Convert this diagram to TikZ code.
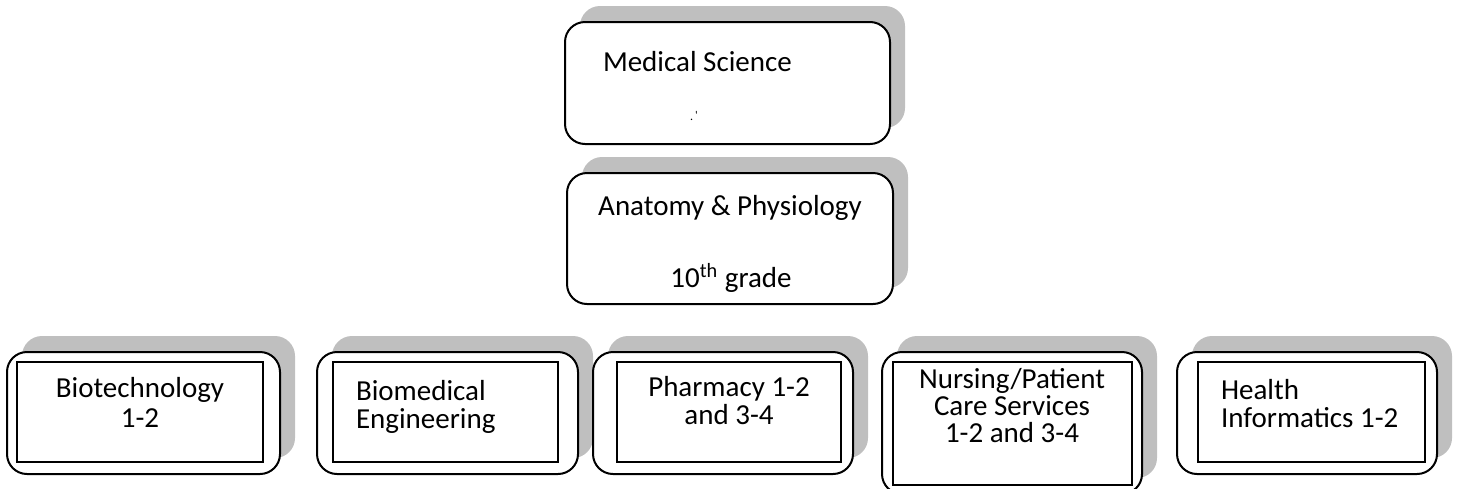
\documentclass[tikz,border=0pt]{standalone}
\usepackage{fontspec}
\setmainfont{Carlito}
\usetikzlibrary{shadows}
\definecolor{shade}{RGB}{191, 191, 191}

\begin{document}
\begin{tikzpicture}[x=0.5pt, y=-0.5pt, line width=1pt,
  font=\fontsize{14.5}{14}\selectfont,
  shadowbox/.style={draw, fill=white, rounded corners=10pt, inner sep=0pt,
    general shadow={fill=shade, shadow xshift=7.5pt, shadow yshift=8pt}},
  framebox/.style={draw, fill=white, inner sep=0pt},
  boxtext/.style={inner sep=0pt, align=center}]
  \useasboundingbox (0, 0) rectangle (1459, 488);

  \node[shadowbox, minimum width=162.5pt, minimum height=61pt] (medsci) at (727.5, 83) {};
  \node[boxtext, anchor=west] (medscitxt) at (602, 62) {Medical Science};
  \node[boxtext, font=\fontsize{6}{6}\selectfont] (medscidots) at (694, 116) {.\,\raisebox{0.6pt}{\textquotesingle}};

  \node[shadowbox, minimum width=163pt, minimum height=65.5pt] (anat) at (730, 238.5) {};
  \node[boxtext] (anattxt) at (730, 208) {Anatomy \& Physiology};
  \node[boxtext] (anatgrade) at (731, 278) {10\textsuperscript{th} grade};

  \node[shadowbox, minimum width=136.5pt, minimum height=61pt] (bio) at (143.5, 413) {};
  \node[framebox, minimum width=123pt, minimum height=50pt] (bioframe) at (140, 412) {};
  \node[boxtext, font=\fontsize{14.5}{15}\selectfont] (biotxt) at (140, 402) {Biotechnology\\1-2};

  \node[shadowbox, minimum width=130.5pt, minimum height=61pt] (biomed) at (447.5, 413) {};
  \node[framebox, minimum width=112.5pt, minimum height=50pt] (biomedframe) at (445.5, 412) {};
  \node[boxtext, align=left, anchor=west] (biomedtxt) at (355, 407) {Biomedical\\Engineering};

  \node[shadowbox, minimum width=130pt, minimum height=61pt] (pharm) at (723, 413) {};
  \node[framebox, minimum width=112pt, minimum height=50pt] (pharmframe) at (729, 412) {};
  \node[boxtext] (pharmtxt) at (729, 401) {Pharmacy 1-2\\and 3-4};

  \node[shadowbox, minimum width=130pt, minimum height=71pt] (nurs) at (1012, 423) {};
  \node[framebox, minimum width=119.5pt, minimum height=61.5pt] (nursframe) at (1012.5, 423.5) {};
  \node[boxtext, font=\fontsize{14.5}{13.5}\selectfont] (nurstxt) at (1012, 406) {Nursing/Patient\\Care Services\\1-2 and 3-4};

  \node[shadowbox, minimum width=130pt, minimum height=61pt] (hinf) at (1307, 413) {};
  \node[framebox, minimum width=113.5pt, minimum height=50pt] (hinfframe) at (1311.5, 412) {};
  \node[boxtext, align=left, anchor=west] (hinftxt) at (1220, 404) {Health\\Informatics 1-2};
\end{tikzpicture}
\end{document}
